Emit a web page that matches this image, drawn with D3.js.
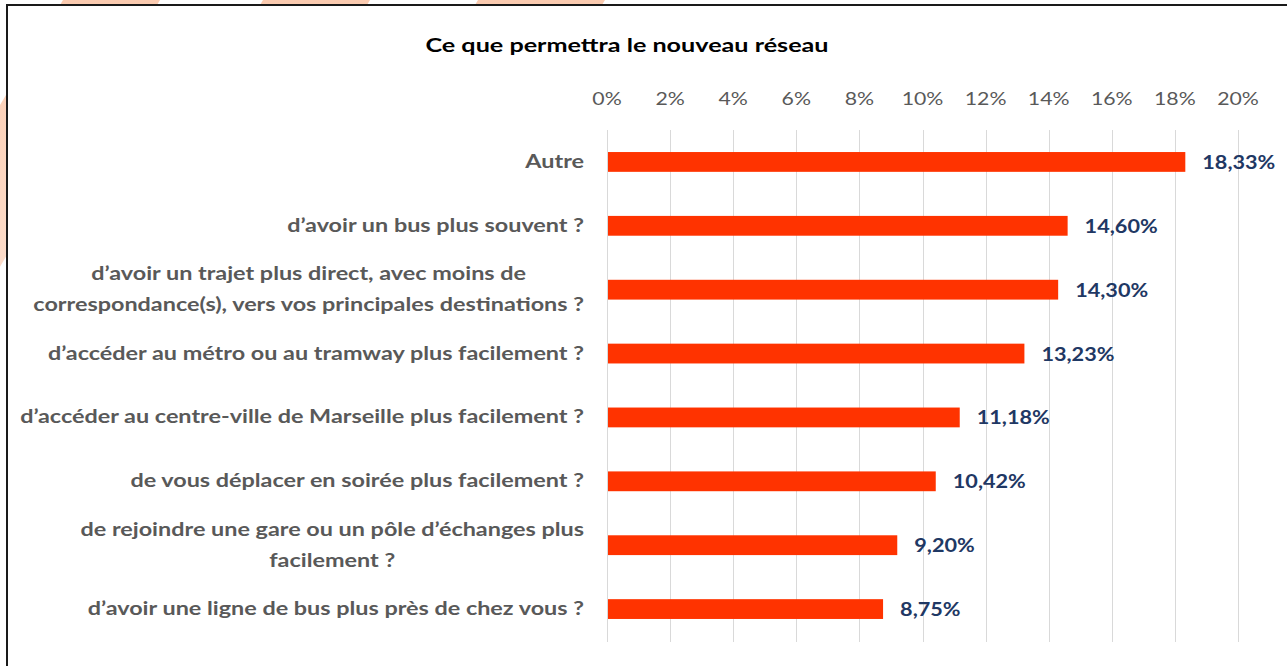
<!DOCTYPE html>
<html lang="fr">
<head>
  <meta charset="UTF-8">
  <title>Ce que permettra le nouveau réseau</title>
  <style>
    body { margin: 0; background: #fff; }
    svg { display: block; }
    .tick-label { font-family: Lato, sans-serif; font-size: 17px; fill: #595959; }
    .cat-label { font-family: Lato, sans-serif; font-size: 19px; font-weight: bold; fill: #595959; }
    .val-label { font-family: Lato, sans-serif; font-size: 19px; font-weight: bold; fill: #1f3864; }
  </style>
</head>
<body>
  <svg id="chart" width="1287" height="666"></svg>

  <script src="https://d3js.org/d3.v7.min.js"></script>
  <script>
    // data, top to bottom
    const categories = [
      "Autre",
      "d’avoir un bus plus souvent ?",
      "d’avoir un trajet plus direct, avec moins de|correspondance(s), vers vos principales destinations ?",
      "d’accéder au métro ou au tramway plus facilement ?",
      "d’accéder au centre-ville de Marseille plus facilement ?",
      "de vous déplacer en soirée plus facilement ?",
      "de rejoindre une gare ou un pôle d’échanges plus|facilement ?",
      "d’avoir une ligne de bus plus près de chez vous ?"
    ];
    const values = [18.33, 14.60, 14.30, 13.23, 11.18, 10.42, 9.20, 8.75];
    const tickValues = [0, 2, 4, 6, 8, 10, 12, 14, 16, 18, 20];
    const title = "Ce que permettra le nouveau réseau";

    const svg = d3.select("#chart");

    // the original screenshot is stretched sideways, stretch text the same way
    function stretch(sel, f) {
      sel.each(function () {
        const w = this.getComputedTextLength();
        d3.select(this).attr("textLength", w * f).attr("lengthAdjust", "spacingAndGlyphs");
      });
    }

    // orange stripes of the page behind the chart frame
    const defs = svg.append("defs");
    const grad = defs.append("linearGradient").attr("id", "stripeGrad")
      .attr("x1", 0).attr("y1", 0).attr("x2", 0).attr("y2", 1);
    grad.append("stop").attr("offset", "0%").attr("stop-color", "#fbcbb0");
    grad.append("stop").attr("offset", "100%").attr("stop-color", "#fde4d6");

    const stripes = [[63, 160], [263, 370], [478, 605]];
    svg.selectAll("polygon.stripe")
      .data(stripes)
      .enter()
      .append("polygon")
      .attr("class", "stripe")
      .attr("points", d => {
        const k = 0.6, h = 400;
        return [[d[0], 0], [d[1], 0], [d[1] - k * h, h], [d[0] - k * h, h]].join(" ");
      })
      .attr("fill", "url(#stripeGrad)");

    // frame
    svg.append("rect")
      .attr("x", 7)
      .attr("y", 5)
      .attr("width", 1300)
      .attr("height", 700)
      .attr("fill", "#fff")
      .attr("stroke", "#1a1a1a")
      .attr("stroke-width", 2);

    // title is cut at the bottom in the original
    defs.append("clipPath").attr("id", "titleClip")
      .append("rect").attr("x", 0).attr("y", 0).attr("width", 1287).attr("height", 55);

    svg.append("text")
      .attr("clip-path", "url(#titleClip)")
      .attr("x", 627)
      .attr("y", 52)
      .attr("text-anchor", "middle")
      .attr("font-family", "Lato, sans-serif")
      .attr("font-size", "19.5px")
      .attr("font-weight", "bold")
      .attr("fill", "#000")
      .text(title)
      .call(stretch, 1.29);

    const x = d3.scaleLinear()
      .domain([0, 20])
      .range([607, 1238]);

    const y = d3.scaleBand()
      .domain(d3.range(categories.length))
      .range([130, 641])
      .paddingInner(0.69)
      .paddingOuter(0.345);

    // gridlines
    svg.selectAll("line.grid")
      .data(tickValues)
      .enter()
      .append("line")
      .attr("class", "grid")
      .attr("x1", d => Math.round(x(d)) + 0.5)
      .attr("x2", d => Math.round(x(d)) + 0.5)
      .attr("y1", 130)
      .attr("y2", 642)
      .attr("stroke", "#d9d9d9")
      .attr("stroke-width", 1);

    // top axis labels
    svg.selectAll("text.tick-label")
      .data(tickValues)
      .enter()
      .append("text")
      .attr("class", "tick-label")
      .attr("x", d => x(d))
      .attr("y", 105)
      .attr("text-anchor", "middle")
      .text(d => d + "%")
      .call(stretch, 1.25);

    // bars
    svg.selectAll("rect.bar")
      .data(values)
      .enter()
      .append("rect")
      .attr("class", "bar")
      .attr("x", x(0) + 1)
      .attr("y", (d, i) => y(i))
      .attr("width", d => x(d) - x(0) - 1)
      .attr("height", y.bandwidth())
      .attr("fill", "#ff3300");

    // value labels
    svg.selectAll("text.val-label")
      .data(values)
      .enter()
      .append("text")
      .attr("class", "val-label")
      .attr("x", d => x(d) + 17)
      .attr("y", (d, i) => y(i) + y.bandwidth() / 2 + 7)
      .text(d => d.toFixed(2).replace(".", ",") + "%")
      .call(stretch, 1.14);

    // category labels: block right-aligned, wrapped lines centred in it
    const labelRight = 584;
    const lineH = 31;
    const catStretch = 1.23;
    categories.forEach((c, i) => {
      const lines = c.split("|");
      const cy = y(i) + y.bandwidth() / 2;
      const g = svg.append("g");
      const texts = lines.map((t, j) => g.append("text")
        .attr("class", "cat-label")
        .attr("y", cy + 6 + (j - (lines.length - 1) / 2) * lineH)
        .attr("text-anchor", "middle")
        .text(t));
      const w = d3.max(texts, t => t.node().getComputedTextLength()) * catStretch;
      texts.forEach(t => {
        t.call(stretch, catStretch);
        t.attr("x", labelRight - w / 2);
      });
    });
  </script>
</body>
</html>
